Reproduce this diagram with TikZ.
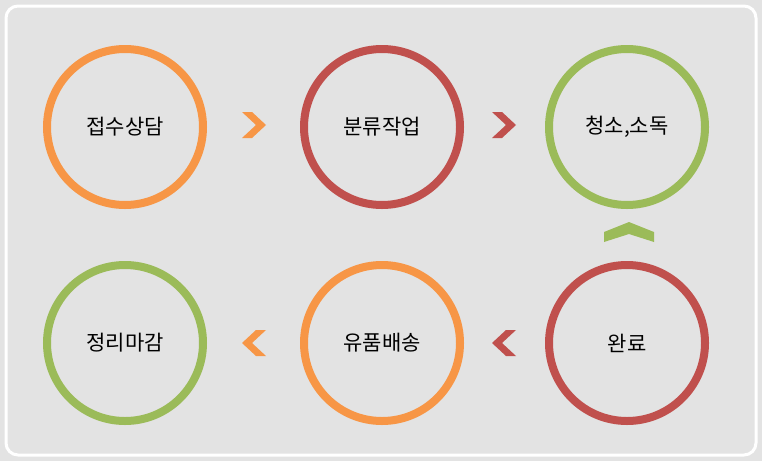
\documentclass[tikz,border=0pt]{standalone}
\usepackage{fontspec}
\setmainfont{Noto Sans CJK KR}
\usetikzlibrary{positioning}
\definecolor{cBg}{RGB}{227, 227, 227}
\definecolor{cOrange}{RGB}{247, 150, 70}
\definecolor{cRed}{RGB}{192, 80, 77}
\definecolor{cGreen}{RGB}{155, 187, 89}
\tikzset{
    % 단계 원
    stepCircle/.style={
        circle, line width=8pt, fill=cBg,
        minimum size=156pt, inner sep=0pt,
        font=\fontsize{21}{24}\selectfont
    },
    % 화살표 모양
    chevR/.pic={\fill (-12,-13) -- (-2,-13) -- (12,0) -- (-2,13) -- (-12,13) -- (2,0) -- cycle;},
    chevL/.pic={\fill (12,-13) -- (2,-13) -- (-12,0) -- (2,13) -- (12,13) -- (-2,0) -- cycle;},
    chevD/.pic={\fill (-25,10) -- (-25,0) -- (0,-10) -- (25,0) -- (25,10) -- (0,2) -- cycle;}
}
\begin{document}
\begin{tikzpicture}[x=1pt, y=-1pt]

	% 배경
	\fill[cBg] (0,0) rectangle (762,461);
	\useasboundingbox (0,0) rectangle (762,461);
	\draw[white, line width=3pt, rounded corners=12pt] (6,6) rectangle (756,455);

	% 1. 윗줄
	\node[stepCircle, draw=cOrange] (recv) at (125,127) {접수상담};
	\node[stepCircle, draw=cRed] (sort) at (382,127) {분류작업};
	\node[stepCircle, draw=cGreen] (clean) at (627,127) {청소,소독};

	% 2. 아랫줄
	\node[stepCircle, draw=cRed] (done) at (627,343) {완료};
	\node[stepCircle, draw=cOrange] (ship) at (382,343) {유품배송};
	\node[stepCircle, draw=cGreen] (close) at (125,343) {정리마감};

	% 3. 화살표
	\path[cOrange] (254,125) pic {chevR};
	\path[cRed] (504,125) pic {chevR};
	\path[cGreen] (629,232) pic {chevD};
	\path[cRed] (504,343) pic {chevL};
	\path[cOrange] (254,343) pic {chevL};

\end{tikzpicture}
\end{document}
